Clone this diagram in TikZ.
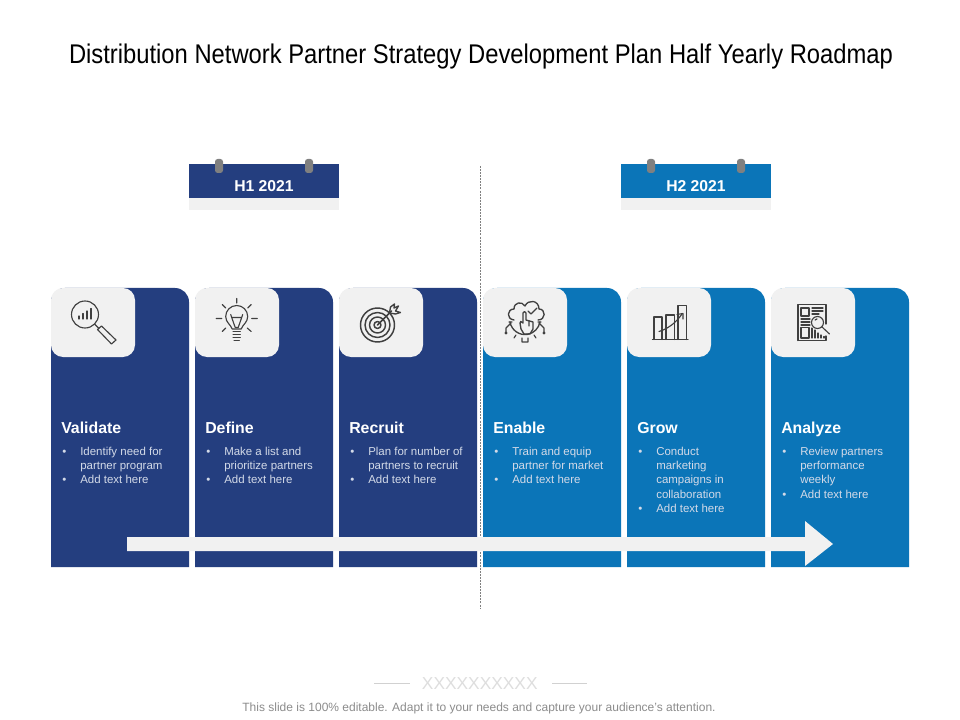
\documentclass[tikz,border=0pt]{standalone}
\usepackage{fontspec}
\setmainfont{Liberation Sans}
\newfontfamily\titlefont[FakeStretch=0.88]{Liberation Sans}
\definecolor{navy}{HTML}{243E7F}
\definecolor{sky}{HTML}{0B75B8}
\definecolor{pale}{HTML}{F1F1F1}
\definecolor{peg}{HTML}{808080}
\definecolor{ink}{HTML}{404040}
\definecolor{foot}{HTML}{8C8C8C}
\definecolor{cardtext}{HTML}{D3DAE8}
\newcommand{\bul}{\llap{\textbullet\hskip 10.5pt}}
\tikzset{
  x=0.75pt,y=-0.75pt,
  icon/.style={draw=ink,line width=0.85pt,fill=none,line cap=round,line join=round},
  heading/.style={anchor=base west,text=white,font=\fontsize{11.9pt}{13pt}\selectfont\bfseries,inner sep=0pt},
  bodytext/.style={anchor=north west,align=left,text=cardtext,font=\fontsize{8.6pt}{10.75pt}\selectfont,inner sep=0pt},
  tag/.style={text=white,font=\fontsize{11.8pt}{14pt}\selectfont\bfseries,inner sep=0pt},
  panel/.style={fill=pale,draw=none}
}
\newcommand{\mycard}[2]{%
  \fill[#2] (#1,567) -- (#1,302) arc[start angle=180,end angle=270,radius=14] -- (#1+124,288) arc[start angle=270,end angle=360,radius=14] -- (#1+138,567) -- cycle;
  \fill[panel] (#1,300) arc[start angle=180,end angle=270,radius=12] -- (#1+72,288) arc[start angle=270,end angle=360,radius=12] -- (#1+84,345) arc[start angle=0,end angle=90,radius=12] -- (#1+12,357) arc[start angle=90,end angle=180,radius=12] -- cycle;
}
\newcommand{\datetag}[4]{%
  \fill[pale] (#1,198) rectangle (#1+150,210);
  \fill[#2] (#1,164) rectangle (#1+150,198);
  \fill[peg,rounded corners=2pt] (#1+26,159) rectangle (#1+34,173);
  \fill[peg,rounded corners=2pt] (#1+116,159) rectangle (#1+124,173);
  \node[tag] (#4) at (#1+75,186) {#3};
}
\begin{document}
\begin{tikzpicture}
\useasboundingbox (0,0) rectangle (960,720);
\fill[white] (0,0) rectangle (960,720);
\node[inner sep=0pt,font=\fontsize{20.27pt}{24pt}\titlefont] (title) at (481,57) {Distribution Network Partner Strategy Development Plan Half Yearly Roadmap};

\datetag{189}{navy}{H1 2021}{hone}
\datetag{621}{sky}{H2 2021}{htwo}

\mycard{51}{navy}\mycard{195}{navy}\mycard{339}{navy}
\mycard{483}{sky}\mycard{627}{sky}\mycard{771}{sky}

\coordinate (divtop) at (480.5,166);
\coordinate (divbot) at (480.5,608);
\draw[draw=gray,line width=0.6pt,dash pattern=on 1.5pt off 0.8pt] (divtop) -- (divbot);

% big arrow
\fill[pale] (127,537) -- (805,537) -- (805,521) -- (833,544) -- (805,566) -- (805,551) -- (127,551) -- cycle;

% headings and text
\node[heading] (h1) at (61,433) {Validate};
\node[heading] (h2) at (205,433) {Define};
\node[heading] (h3) at (349,433) {Recruit};
\node[heading] (h4) at (493,433) {Enable};
\node[heading] (h5) at (637,433) {Grow};
\node[heading] (h6) at (781,433) {Analyze};
\node[bodytext] (b1) at (80,446.5) {\bul Identify need for\\partner program\\\bul Add text here};
\node[bodytext] (b2) at (224,446.5) {\bul Make a list and\\prioritize partners\\\bul Add text here};
\node[bodytext] (b3) at (368,446.5) {\bul Plan for number of\\partners to recruit\\\bul Add text here};
\node[bodytext] (b4) at (512,446.5) {\bul Train and equip\\partner for market\\\bul Add text here};
\node[bodytext] (b5) at (656,446.5) {\bul Conduct\\marketing\\campaigns in\\collaboration\\\bul Add text here};
\node[bodytext] (b6) at (800,446.5) {\bul Review partners\\performance\\weekly\\\bul Add text here};

% magnifier icon
\draw[icon] (85,314.5) circle[radius=13.5];
\draw[icon] (79,319) -- (79,316) (83,319) -- (83,313.5) (87,319) -- (87,311) (91,319) -- (91,308.5);
\draw[icon] (95,324.5) -- (99,328.5);
\draw[icon] (97.5,329.5) -- (101.5,326) -- (116,340) -- (111.5,344) -- cycle;

% bulb icon
\begin{scope}[shift={(236.7,318.5)}]
\draw[icon] (-4.5,10.5) .. controls (-6,6) and (-11,4) .. (-11,-2) arc[start angle=180,end angle=360,radius=11] .. controls (11,4) and (6,6) .. (4.5,10.5) -- cycle;
\draw[icon] (-5,-1) -- (5,-1) -- (1.5,9) -- (-1.5,9) -- cycle (-6,-4) -- (-5,-1) (6,-4) -- (5,-1);
\draw[icon,line width=1.1pt] (-3.5,13) -- (3.5,13) (-3.5,16) -- (3.5,16) (-3.5,19) -- (3.5,19) (-2.5,22) -- (2.5,22);
\draw[icon] (0,-20) -- (0,-15.5) (-14.5,-14) -- (-11,-10.5) (14.5,-14) -- (11,-10.5)
  (-20.5,0) -- (-15,0) (20.5,0) -- (15,0) (-14.5,13) -- (-11,9.5) (14.5,13) -- (10.5,9.5);
\end{scope}

% target icon
\begin{scope}[shift={(377.5,325)}]
\draw[icon,line width=1.1pt] (0,0) circle[radius=17] (0,0) circle[radius=12.5] (0,0) circle[radius=8] (0,0) circle[radius=3.5];
\draw[icon,line width=1.1pt] (0,0) -- (14,-14);
\draw[icon,line width=1pt] (12,-12) -- (13,-18) -- (17,-21) -- (16.5,-17) -- (21,-19) -- (18,-14) -- (23,-12.5) -- (18,-11) -- cycle;
\end{scope}

% cloud, gear and hand icon
\begin{scope}[shift={(525,320)}]
\draw[icon,line width=1pt] (-11,0) .. controls (-19,-1) and (-18,-11) .. (-11,-11) .. controls (-11,-18) and (-3,-19) .. (0,-14) .. controls (3,-21) and (14,-20) .. (14,-11) .. controls (21,-11) and (21,0) .. (13,0);
\draw[icon] (3,-9) -- (6,-6) -- (12,-12);
\draw[icon,line width=1pt] (-15,2) arc[start angle=170,end angle=10,radius=15.2];
\draw[icon] (-16,2) -- (-13,2) (16,2) -- (13,2) (-9,15) -- (-11,18) (9,15) -- (11,18) (-3,18) -- (-3,22) -- (3,22) -- (3,18);
\draw[icon,line width=1pt] (-4,9) -- (-5,3) .. controls (-6,1) and (-3,1) .. (-2,3) -- (-2,-7) .. controls (-2,-9) and (1,-9) .. (1,-7) -- (1,0) -- (8,2) -- (8,9) -- (5,14) -- (-1,14) -- cycle;
\draw[icon] (4,1) -- (4,6) (-14,3) -- (-19,8) -- (-19,12) (14,3) -- (19,8) -- (19,12);
\fill[ink] (-19,13) circle[radius=1.6] (19,13) circle[radius=1.6];
\end{scope}

% growth chart icon
\begin{scope}[shift={(627,280)}]
\draw[icon] (25.5,59.5) -- (61,59.5);
\draw[icon] (27,59.5) -- (27,37) -- (35,37) -- (35,59.5);
\draw[icon] (39,59.5) -- (39,35) -- (47.5,35) -- (47.5,59.5);
\draw[icon] (51,59.5) -- (51,25.5) -- (59.5,25.5) -- (59.5,59.5);
\draw[icon] (32,51.5) .. controls (40,49) and (48,44) .. (55,34);
\draw[icon] (50,34.5) -- (56,33.5) -- (56,39);
\end{scope}

% report icon
\begin{scope}[shift={(771,280)}]
\draw[icon,line width=1pt] (27,60.5) -- (27,24.5) -- (55,24.5) -- (55,44) (27,60.5) -- (55,60.5) -- (55,56);
\draw[icon] (30,28) rectangle (38,36) (41,28) -- (52,28) (41,31) -- (52,31) (41,34) -- (48,34);
\draw[icon] (30,39) -- (39,39) (30,42) -- (39,42) (30,45) -- (39,45);
\draw[icon] (30,47.5) rectangle (38,58);
\draw[icon] (41,48) -- (41,58) (44,50) -- (44,58) (47,53) -- (47,58) (50,55) -- (50,58) (53,56.5) -- (53,58);
\fill[pale] (46.5,42.5) circle[radius=7];
\draw[icon] (46.5,42.5) circle[radius=6] (51,47) -- (58.5,54) (44,40) -- (46,39);
\end{scope}

% footer
\coordinate (fl1) at (374,683.3); \coordinate (fl2) at (410,683.3);
\coordinate (fr1) at (552,683.3); \coordinate (fr2) at (587,683.3);
\draw[draw=black!18,line width=0.5pt] (fl1) -- (fl2) (fr1) -- (fr2);
\node[inner sep=0pt,text=black!13,font=\fontsize{13pt}{14pt}\selectfont] (xs) at (479.8,683.5) {XXXXXXXXXX};
\node[inner sep=0pt,text=foot,font=\fontsize{9pt}{11pt}\selectfont] (foottext) at (479,708) {This slide is 100\% editable. Adapt it to your needs and capture your audience’s attention.};
\end{tikzpicture}
\end{document}
